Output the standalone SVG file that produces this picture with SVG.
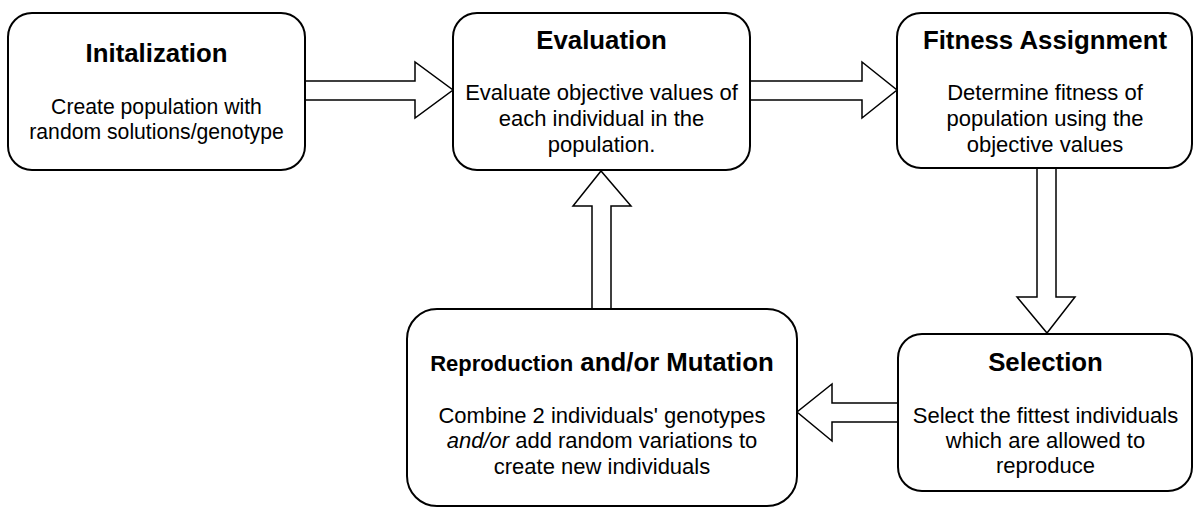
<svg xmlns="http://www.w3.org/2000/svg" width="1194" height="508" viewBox="0 0 1194 508">
<style>
.box{fill:#fff;stroke:#000;stroke-width:2}
.arr{fill:#fff;stroke:#000;stroke-width:1.5;stroke-linejoin:miter}
text{font-family:"Liberation Sans",Arial,sans-serif;fill:#000;text-anchor:middle}
.t{font-size:25.8px;font-weight:bold}
.b{font-size:22px}
.b2{font-size:21.2px}
</style>
<rect width="1194" height="508" fill="#fff"/>
<g id="connectors">
<polygon class="arr" points="305,81 415,81 415,62 453,90 415,118 415,100 305,100"/>
<polygon class="arr" points="750,81 862,81 862,62 897,90 862,118 862,100 750,100"/>
<polygon class="arr" points="1037,168 1056,168 1056,297 1075,297 1047,333 1017,297 1037,297"/>
<polygon class="arr" points="898,403 832,403 832,384 797,412 832,441 832,422 898,422"/>
<polygon class="arr" points="592,309 592,206 573,206 601,171 631,206 611,206 611,309"/>
</g>
<g id="initialization">
<rect class="box" x="8" y="13" width="297" height="157" rx="24"/>
<text class="t" x="156.5" y="62">Initalization</text>
<text class="b2" x="156.5" y="114">Create population with</text>
<text class="b2" x="156.5" y="139">random solutions/genotype</text>
</g>
<g id="evaluation">
<rect class="box" x="453" y="13" width="297" height="157" rx="24"/>
<text class="t" x="601.5" y="49">Evaluation</text>
<text class="b" x="601.5" y="100">Evaluate objective values of</text>
<text class="b" x="601.5" y="126">each individual in the</text>
<text class="b" x="601.5" y="152">population.</text>
</g>
<g id="fitness">
<rect class="box" x="897" y="13" width="295" height="155" rx="24"/>
<text class="t" x="1045" y="49">Fitness Assignment</text>
<text class="b" x="1045" y="100">Determine fitness of</text>
<text class="b" x="1045" y="126">population using the</text>
<text class="b" x="1045" y="152">objective values</text>
</g>
<g id="selection">
<rect class="box" x="898" y="334" width="294" height="157" rx="24"/>
<text class="t" x="1045.5" y="371">Selection</text>
<text class="b" x="1045.5" y="423">Select the fittest individuals</text>
<text class="b" x="1045.5" y="448">which are allowed to</text>
<text class="b" x="1045.5" y="473">reproduce</text>
</g>
<g id="reproduction">
<rect class="box" x="407" y="309" width="390" height="197" rx="30"/>
<text class="t" x="602" y="371"><tspan font-size="22px">Reproduction</tspan> and/or Mutation</text>
<text class="b" x="602" y="423">Combine 2 individuals' genotypes</text>
<text class="b" x="602" y="448"><tspan font-style="italic">and/or</tspan> add random variations to</text>
<text class="b" x="602" y="474">create new individuals</text>
</g>
</svg>
